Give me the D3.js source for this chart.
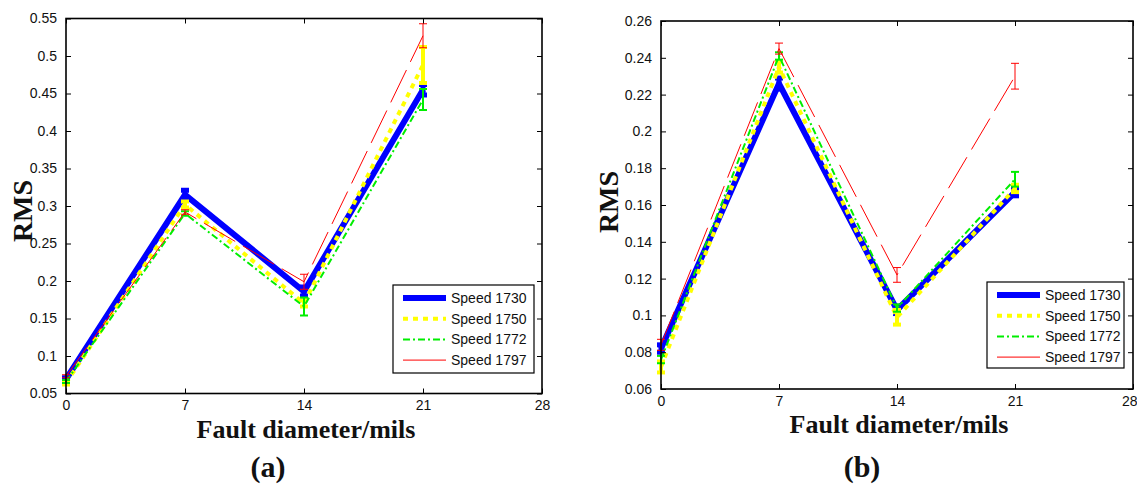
<!DOCTYPE html>
<html>
<head>
<meta charset="utf-8">
<script src="https://cdn.jsdelivr.net/npm/d3@7"></script>
<style>
  body { margin: 0; background: #fff; }
  svg { display: block; }
</style>
</head>
<body>
<script>
// fault diameters (mils) and speed names
var faultDiam = [0, 7, 14, 21];
var speedNames = ["Speed 1730", "Speed 1750", "Speed 1772", "Speed 1797"];

// panel (a) RMS values and error half-widths
var a1730 = [0.069, 0.315, 0.186, 0.455];
var a1730Err = [0.002, 0.006, 0.006, 0.007];
var a1750 = [0.064, 0.302, 0.170, 0.488];
var a1750Err = [0.002, 0.004, 0.004, 0.024];
var a1772 = [0.066, 0.290, 0.166, 0.442];
var a1772Err = [0.002, 0.003, 0.012, 0.014];
var a1797 = [0.073, 0.292, 0.199, 0.527];
var a1797Err = [0.002, 0.003, 0.010, 0.016];

// panel (b)
var b1730 = [0.082, 0.226, 0.103, 0.167];
var b1730Err = [0.002, 0.003, 0.002, 0.002];
var b1750 = [0.072, 0.235, 0.099, 0.169];
var b1750Err = [0.003, 0.003, 0.004, 0.002];
var b1772 = [0.076, 0.241, 0.104, 0.174];
var b1772Err = [0.002, 0.002, 0.002, 0.004];
var b1797 = [0.084, 0.245, 0.122, 0.230];
var b1797Err = [0.003, 0.003, 0.004, 0.007];

var xTicks = [0, 7, 14, 21, 28];
var yTicksA = [0.05, 0.1, 0.15, 0.2, 0.25, 0.3, 0.35, 0.4, 0.45, 0.5, 0.55];
var yTicksB = [0.06, 0.08, 0.1, 0.12, 0.14, 0.16, 0.18, 0.2, 0.22, 0.24, 0.26];

var styles = [
  {color: "#0000ff", width: 6, dash: null},
  {color: "#ffff00", width: 4, dash: "5,5"},
  {color: "#00ee00", width: 2, dash: "7,3,2,3"},
  {color: "#ff0000", width: 1, dash: "36,9"}
];

var svg = d3.select("body").append("svg")
    .attr("width", 1137)
    .attr("height", 487);

function drawPanel(p) {
  var xScale = d3.scaleLinear().domain([0, 28]).range([p.left, p.right]);
  var yScale = d3.scaleLinear().domain(p.yDomain).range([p.bottom, p.top]);
  var g = svg.append("g");

  // error bars + lines, in plotting order
  p.series.forEach(function(vals, i) {
    var st = styles[i];
    var errs = p.errs[i];
    var line = d3.line()
        .x(function(d, j) { return xScale(faultDiam[j]); })
        .y(function(d) { return yScale(d); });
    g.append("path")
      .datum(vals)
      .attr("fill", "none")
      .attr("stroke", st.color)
      .attr("stroke-width", st.width)
      .attr("stroke-dasharray", st.dash)
      .attr("stroke-linejoin", "miter")
      .attr("d", line);

    var eb = g.append("g")
      .attr("stroke", st.color)
      .attr("stroke-width", Math.min(st.width, 5));
    vals.forEach(function(v, j) {
      var cx = xScale(faultDiam[j]);
      var y0 = yScale(v - errs[j]), y1 = yScale(v + errs[j]);
      var cap = 4;
      eb.append("line").attr("x1", cx).attr("x2", cx).attr("y1", y0).attr("y2", y1);
      eb.append("line").attr("x1", cx - cap).attr("x2", cx + cap).attr("y1", y0).attr("y2", y0);
      eb.append("line").attr("x1", cx - cap).attr("x2", cx + cap).attr("y1", y1).attr("y2", y1);
    });
  });

  // axes, ticks inward on all sides
  var fmt = function(d) { return String(+d.toFixed(2)); };
  var axB = g.append("g")
    .attr("transform", "translate(0," + p.bottom + ")")
    .call(d3.axisBottom(xScale).tickValues(xTicks).tickSizeInner(-5).tickSizeOuter(0).tickPadding(7));
  var axT = g.append("g")
    .attr("transform", "translate(0," + p.top + ")")
    .call(d3.axisTop(xScale).tickValues(xTicks).tickSizeInner(-5).tickSizeOuter(0).tickFormat(""));
  var axL = g.append("g")
    .attr("transform", "translate(" + p.left + ",0)")
    .call(d3.axisLeft(yScale).tickValues(p.yTicks).tickSizeInner(-5).tickSizeOuter(0).tickPadding(9).tickFormat(fmt));
  var axR = g.append("g")
    .attr("transform", "translate(" + p.right + ",0)")
    .call(d3.axisRight(yScale).tickValues(p.yTicks).tickSizeInner(-5).tickSizeOuter(0).tickFormat(""));
  [axB, axT, axL, axR].forEach(function(ax) {
    ax.select(".domain").remove();
    ax.selectAll("line").attr("stroke", "#000");
    ax.selectAll("text")
      .attr("fill", "#111")
      .style("font-family", "'Liberation Sans', Arial, sans-serif")
      .style("font-size", "14px");
  });
  // last x label may run off the page edge; keep it inside
  if (p.right > 1120) {
    axB.selectAll(".tick text")
      .filter(function(d) { return d == 28; })
      .attr("text-anchor", "end")
      .attr("dx", "4");
  }
  g.append("rect")
    .attr("x", p.left).attr("y", p.top)
    .attr("width", p.right - p.left).attr("height", p.bottom - p.top)
    .attr("fill", "none").attr("stroke", "#000").attr("stroke-width", 1.6);

  // legend
  var lg = g.append("g");
  lg.append("rect")
    .attr("x", p.leg.x).attr("y", p.leg.y)
    .attr("width", p.leg.w).attr("height", p.leg.h)
    .attr("fill", "#fff").attr("stroke", "#000").attr("stroke-width", 1.2);
  speedNames.forEach(function(name, i) {
    var st = styles[i];
    var ly = p.leg.y + 13 + i * 20.7;
    lg.append("line")
      .attr("x1", p.leg.x + 10).attr("x2", p.leg.x + 53)
      .attr("y1", ly).attr("y2", ly)
      .attr("stroke", st.color)
      .attr("stroke-width", st.width)
      .attr("stroke-dasharray", i == 3 ? null : st.dash);
    lg.append("text")
      .attr("x", p.leg.x + 58).attr("y", ly + 5)
      .style("font-family", "'Liberation Sans', Arial, sans-serif")
      .style("font-size", "14px")
      .attr("fill", "#111")
      .text(name);
  });

  // axis titles
  g.append("text")
    .attr("x", (p.left + p.right) / 2 + 2).attr("y", p.xTitleY)
    .attr("text-anchor", "middle")
    .style("font-family", "'Liberation Serif', 'Times New Roman', serif")
    .style("font-weight", "bold")
    .style("font-size", "26px")
    .attr("fill", "#111")
    .text("Fault diameter/mils");
  g.append("text")
    .attr("transform", "translate(" + p.yTitleX + "," + p.yTitleY + ") rotate(-90)")
    .attr("text-anchor", "middle")
    .style("font-family", "'Liberation Serif', 'Times New Roman', serif")
    .style("font-weight", "bold")
    .style("font-size", "28px")
    .attr("fill", "#111")
    .text("RMS");
  g.append("text")
    .attr("x", p.capX).attr("y", 477)
    .attr("text-anchor", "middle")
    .style("font-family", "'Liberation Serif', 'Times New Roman', serif")
    .style("font-weight", "bold")
    .style("font-size", "30px")
    .attr("fill", "#111")
    .text(p.caption);
}

drawPanel({
  left: 66, right: 542, top: 18.5, bottom: 393.5,
  yDomain: [0.05, 0.55], yTicks: yTicksA,
  series: [a1730, a1750, a1772, a1797],
  errs: [a1730Err, a1750Err, a1772Err, a1797Err],
  leg: {x: 393, y: 285, w: 141, h: 88},
  xTitleY: 438, yTitleX: 32, yTitleY: 211,
  capX: 268, caption: "(a)"
});

drawPanel({
  left: 661, right: 1133, top: 21, bottom: 389,
  yDomain: [0.06, 0.26], yTicks: yTicksB,
  series: [b1730, b1750, b1772, b1797],
  errs: [b1730Err, b1750Err, b1772Err, b1797Err],
  leg: {x: 987, y: 282, w: 137, h: 86},
  xTitleY: 433, yTitleX: 618, yTitleY: 202,
  capX: 862, caption: "(b)"
});
</script>
</body>
</html>
